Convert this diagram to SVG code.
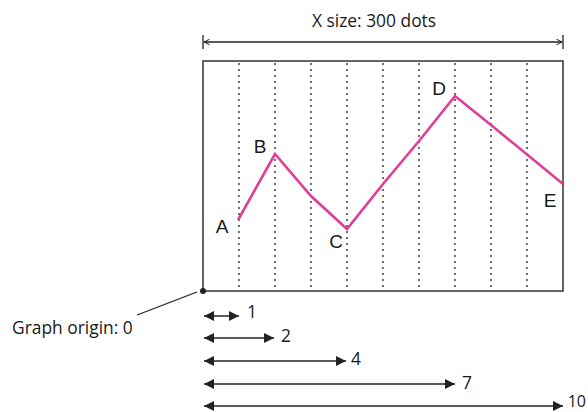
<svg xmlns="http://www.w3.org/2000/svg" width="588" height="412" viewBox="0 0 588 412">
<style>
.txt{font-family:"Open Sans","Noto Sans",sans-serif;font-size:17.4px;fill:#1a1a1a}
.lbl{font-family:"Liberation Sans",Arial,sans-serif;font-size:19px;fill:#1a1a1a}
.dot{stroke:#333;stroke-width:1.4;stroke-dasharray:2 4}
.ln{stroke:#222;stroke-width:1.3;fill:none}
.dim{stroke:#222;stroke-width:1.5;fill:none}
</style>
<defs>
<marker id="open" viewBox="0 0 10 10" refX="9" refY="5" markerWidth="7" markerHeight="7" markerUnits="userSpaceOnUse" orient="auto-start-reverse">
<path d="M1,1 L9,5 L1,9" fill="none" stroke="#222" stroke-width="1.4"/>
</marker>
<marker id="tri" viewBox="0 0 10 10" refX="10" refY="5" markerWidth="10" markerHeight="10" markerUnits="userSpaceOnUse" orient="auto-start-reverse">
<path d="M0,0 L10,5 L0,10 Z" fill="#222"/>
</marker>
</defs>
<g id="graph-box">
<rect x="203" y="61" width="360" height="230" fill="#fff" stroke="#333" stroke-width="1.5"/>
<g id="grid">
<line class="dot" x1="239" y1="63" x2="239" y2="290"/>
<line class="dot" x1="275" y1="63" x2="275" y2="290"/>
<line class="dot" x1="311" y1="63" x2="311" y2="290"/>
<line class="dot" x1="347" y1="63" x2="347" y2="290"/>
<line class="dot" x1="383" y1="63" x2="383" y2="290"/>
<line class="dot" x1="419" y1="63" x2="419" y2="290"/>
<line class="dot" x1="455" y1="63" x2="455" y2="290"/>
<line class="dot" x1="491" y1="63" x2="491" y2="290"/>
<line class="dot" x1="527" y1="63" x2="527" y2="290"/>
</g>
</g>
<g id="plot">
<polyline points="238,220 275,154 311,196 347,229 383,184 419,141 455,96 491,125 563,184" fill="none" stroke="#e23d96" stroke-width="2.6" stroke-linejoin="miter"/>
</g>
<g id="point-labels">
<text class="lbl" x="222" y="233" text-anchor="middle">A</text>
<text class="lbl" x="260" y="153" text-anchor="middle">B</text>
<text class="lbl" x="336" y="248" text-anchor="middle">C</text>
<text class="lbl" x="439" y="95" text-anchor="middle">D</text>
<text class="lbl" x="550" y="207" text-anchor="middle">E</text>
</g>
<g id="x-size">
<text class="txt" x="374" y="27" text-anchor="middle">X size: 300 dots</text>
</g>
<g id="origin">
<circle cx="203" cy="291" r="3" fill="#222"/>
<text class="txt" x="12" y="334">Graph origin: 0</text>
</g>
<g id="connectors">
<line class="ln" x1="203" y1="35" x2="203" y2="49"/>
<line class="ln" x1="563" y1="35" x2="563" y2="49"/>
<line class="ln" x1="204" y1="42" x2="562" y2="42" marker-start="url(#open)" marker-end="url(#open)"/>
<line class="ln" x1="137" y1="315" x2="197" y2="292"/>
<line class="dim" x1="204" y1="316" x2="239" y2="316" marker-start="url(#tri)" marker-end="url(#tri)"/>
<line class="dim" x1="204" y1="338" x2="274" y2="338" marker-start="url(#tri)" marker-end="url(#tri)"/>
<line class="dim" x1="204" y1="361" x2="346" y2="361" marker-start="url(#tri)" marker-end="url(#tri)"/>
<line class="dim" x1="204" y1="384" x2="455" y2="384" marker-start="url(#tri)" marker-end="url(#tri)"/>
<line class="dim" x1="204" y1="406" x2="563" y2="406" marker-start="url(#tri)" marker-end="url(#tri)"/>
</g>
<g id="lengths">
<text class="txt" x="247" y="318">1</text>
<text class="txt" x="281" y="342">2</text>
<text class="txt" x="351" y="365">4</text>
<text class="txt" x="462" y="389">7</text>
<text class="txt" x="586" y="407" text-anchor="end" style="font-size:16px">10</text>
</g>
</svg>
